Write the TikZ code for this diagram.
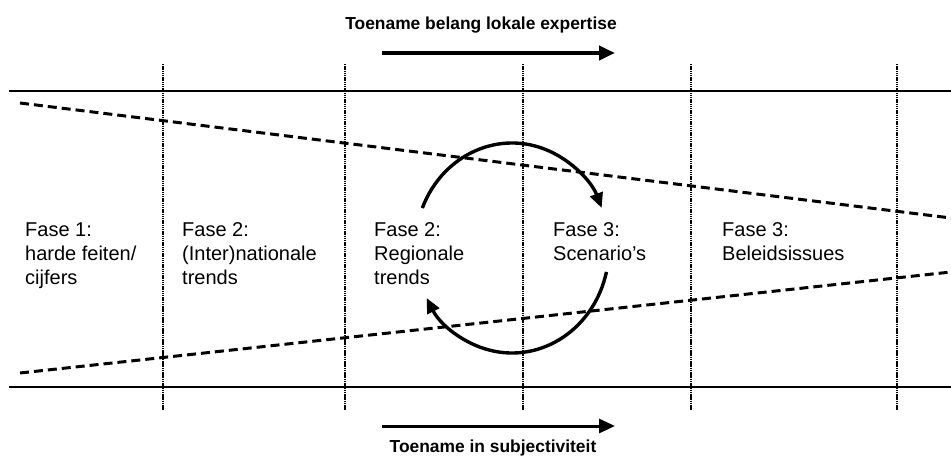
\documentclass[tikz,border=0pt]{standalone}
\usepackage{fontspec}
\setmainfont{Liberation Sans}
\usetikzlibrary{arrows.meta}

\begin{document}
\begin{tikzpicture}[x=1pt, y=-1pt,
  fase/.style={anchor=north west, align=left, inner sep=0pt,
               font=\fontsize{20}{24}\selectfont},
  ttl/.style={anchor=base, inner sep=0pt, font=\bfseries\fontsize{17.4}{20}\selectfont},
  rand/.style={line width=2.3pt},
  grens/.style={line width=2.6pt, dash pattern=on 1.5pt off 0.7pt},
  trechter/.style={line width=3pt, dash pattern=on 9pt off 5pt},
  pijl/.style={-{Triangle[length=16pt,width=14pt]}},
  cyc/.style={line width=3.4pt, -{Triangle[length=15pt,width=13pt]}},
]
  \useasboundingbox (0,0) rectangle (951,457);

  % titels en pijlen
  \node[ttl] (tboven) at (481,30)  {Toename belang lokale expertise};
  \node[ttl] (tonder) at (493,452) {Toename in subjectiviteit};
  \coordinate (pbA) at (382,53);  \coordinate (pbB) at (615,53);
  \coordinate (poA) at (382,426); \coordinate (poB) at (615,426);
  \draw[pijl, line width=4.5pt] (pbA) -- (pbB);
  \draw[pijl, line width=3pt] (poA) -- (poB);

  % kader
  \draw[rand] (9,91) -- (951,91);
  \draw[rand] (9,387) -- (951,387);
  \foreach \xn/\xx in {1/163, 2/345, 3/523, 4/691, 5/897} {
    \draw[grens] (\xx,64) -- (\xx,410);
  }

  % trechter
  \coordinate (bL) at (20,103);  \coordinate (bR) at (951,218);
  \coordinate (oL) at (20,373);  \coordinate (oR) at (951,272);
  \draw[trechter] (bL) -- (bR);
  \draw[trechter] (oL) -- (oR);

  % fasen
  \foreach \xn/\xx/\xtxt in {%
    1/25/{Fase 1:\\harde feiten/\\cijfers},%
    2/182/{Fase 2:\\(Inter)nationale\\trends},%
    3/374/{Fase 2:\\Regionale\\trends},%
    4/553/{Fase 3:\\Scenario’s},%
    5/722/{Fase 3:\\Beleidsissues}%
  } {
    \node[fase] (F\xn) at (\xx,222.5) {\xtxt};
  }

  % cyclus tussen F3 en F4
  \coordinate (cyc) at (512,248);
  \draw[cyc] ([shift={(202.4:97 and 105)}]cyc)
    arc[start angle=202.4, end angle=337.6, x radius=97, y radius=105];
  \draw[cyc] ([shift={(13.2:97 and 105)}]cyc)
    arc[start angle=13.2, end angle=151.6, x radius=97, y radius=105];
\end{tikzpicture}
\end{document}
